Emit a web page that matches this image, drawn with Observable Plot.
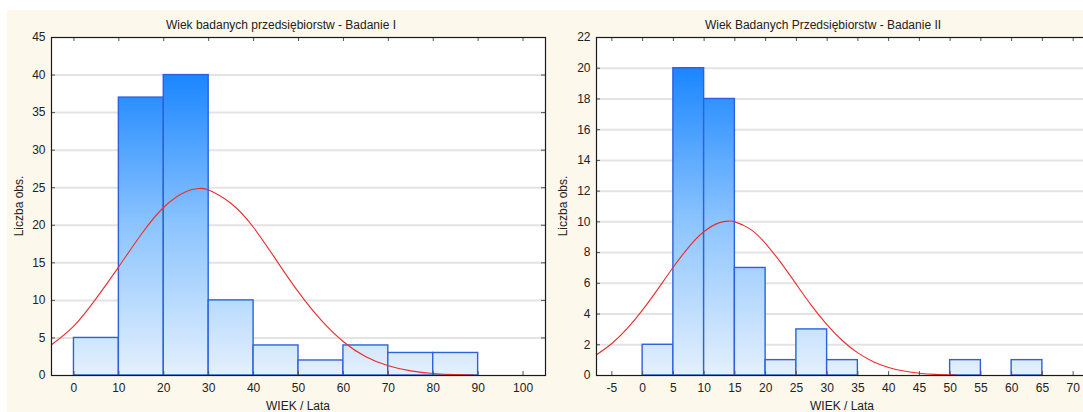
<!DOCTYPE html>
<html><head><meta charset="utf-8">
<script src="https://cdn.jsdelivr.net/npm/d3@7"></script>
<script src="https://cdn.jsdelivr.net/npm/@observablehq/plot@0.6"></script>
<style>
html,body{margin:0;padding:0;background:#fff;overflow:hidden;}
#wrap{position:relative;width:1083px;height:412px;overflow:hidden;font-family:"Liberation Sans",Arial,sans-serif;color:#222;}
#bg{position:absolute;left:7px;top:10px;right:0;bottom:0;background:#fdf8ec;}
.t{position:absolute;font-size:12px;white-space:nowrap;transform:translate(-50%,-50%);}
.yl{transform:translate(-50%,-50%) rotate(-90deg);}
#wrap svg{position:absolute;top:0;}
</style></head><body><div id="wrap"><div id="bg"></div></div>
<script>
// ---- Badanie I ----
const titleI = "Wiek badanych przedsiębiorstw - Badanie I";
const edgesI = [0, 10, 20, 30, 40, 50, 60, 70, 80];
const binWidthI = 10;
const countsI = [5, 37, 40, 10, 4, 2, 4, 3, 3];
const curveXI = [-5, 0, 5, 10, 15, 20, 25, 28, 30, 35, 40, 45, 50, 55, 60, 65, 70, 75, 80, 85, 89];
const curveYI = [4.1, 6.6, 10.3, 14.5, 18.8, 22.4, 24.5, 24.9, 24.7, 22.9, 19.7, 15.4, 11.1, 7.4, 4.5, 2.5, 1.3, 0.62, 0.27, 0.11, 0.05];
const xTicksI = [0, 10, 20, 30, 40, 50, 60, 70, 80, 90, 100];
const yTicksI = [0, 5, 10, 15, 20, 25, 30, 35, 40, 45];
const xDomainI = [-5, 105];

// ---- Badanie II ----
const titleII = "Wiek Badanych Przedsiębiorstw - Badanie II";
const edgesII = [0, 5, 10, 15, 20, 25, 30, 35, 40, 45, 50, 55, 60];
const binWidthII = 5;
const countsII = [2, 20, 18, 7, 1, 3, 1, 0, 0, 0, 1, 0, 1];
const curveXII = [-7.5, -5, -2.5, 0, 2.5, 5, 7.5, 10, 12.5, 14, 15, 17.5, 20, 22.5, 25, 27.5, 30, 32.5, 35, 37.5, 40, 42.5, 45, 47.5, 51];
const curveYII = [1.35, 2.08, 3.06, 4.27, 5.64, 7.06, 8.36, 9.37, 9.95, 10.05, 10.0, 9.53, 8.59, 7.33, 5.93, 4.53, 3.29, 2.26, 1.47, 0.9, 0.52, 0.29, 0.15, 0.075, 0.025];
const xTicksII = [-5, 0, 5, 10, 15, 20, 25, 30, 35, 40, 45, 50, 55, 60, 65, 70];
const yTicksII = [0, 2, 4, 6, 8, 10, 12, 14, 16, 18, 20, 22];
const xDomainII = [-7.5, 72.5];

const xLabel = "WIEK / Lata";
const yLabel = "Liczba obs.";

const wrap = document.getElementById("wrap");

function histo(cfg) {
  const H = 412, mT = 37, mB = 37;
  const plotH = H - mT - mB;
  const plotW = cfg.width - cfg.marginLeft - cfg.marginRight;
  const bars = cfg.edges.map((e, i) => ({x1: e, x2: e + cfg.binWidth, y: cfg.counts[i]})).filter(d => d.y > 0);
  const curve = cfg.curveX.map((x, i) => ({x, y: cfg.curveY[i]}));
  const yMax = cfg.yTicks[cfg.yTicks.length - 1];
  const chart = Plot.plot({
    width: cfg.width, height: H,
    marginTop: mT, marginBottom: mB, marginLeft: cfg.marginLeft, marginRight: cfg.marginRight,
    style: {fontFamily: '"Liberation Sans", Arial, sans-serif', fontSize: "12px", color: "#222", background: "transparent", overflow: "visible"},
    x: {domain: cfg.xDomain, label: null},
    y: {domain: [0, yMax], label: null},
    marks: [
      Plot.frame({fill: "#ffffff", stroke: null}),
      Plot.ruleY(cfg.yTicks.filter(t => t > 0 && t < yMax), {y: d => d, stroke: "#e3e3e3", strokeWidth: 2}),
      Plot.rectY(bars, {x1: "x1", x2: "x2", y: "y", fill: "url(#" + cfg.id + ")", stroke: "#2c62dc", strokeWidth: 1.4}),
      Plot.line(curve, {x: "x", y: "y", stroke: "#ee2b2b", strokeWidth: 1.1, curve: "natural"}),
      Plot.tickX(cfg.xTicks, {x: d => d, stroke: "#555", insetTop: plotH - 4}),
      Plot.tickX(cfg.xTicks, {x: d => d, stroke: "#555", insetBottom: plotH - 4}),
      Plot.tickY(cfg.yTicks, {y: d => d, stroke: "#555", insetRight: plotW - 4}),
      Plot.tickY(cfg.yTicks, {y: d => d, stroke: "#555", insetLeft: plotW - 4}),
      Plot.frame({stroke: "#1a1a1a", strokeWidth: 1.2}),
      Plot.axisX(cfg.xTicks, {tickSize: 0, tickPadding: 8, label: null, fill: "#222", tickFormat: d => String(d)}),
      Plot.axisY(cfg.yTicks, {tickSize: 0, tickPadding: 6, label: null, fill: "#222", tickFormat: d => String(d)})
    ]
  });
  const y = chart.scale("y");
  const maxC = d3.max(cfg.counts);
  const defs = d3.select(chart).insert("defs", ":first-child");
  const g = defs.append("linearGradient").attr("id", cfg.id)
    .attr("gradientUnits", "userSpaceOnUse")
    .attr("x1", 0).attr("x2", 0)
    .attr("y1", y.apply(0)).attr("y2", y.apply(maxC));
  g.append("stop").attr("offset", 0).attr("stop-color", "#e4f0fd");
  g.append("stop").attr("offset", 0.5).attr("stop-color", "#8cc4ff");
  g.append("stop").attr("offset", 1).attr("stop-color", "#1a86ff");
  chart.style.left = cfg.left + "px";
  wrap.appendChild(chart);

  const fx = cfg.left + cfg.marginLeft + plotW / 2;
  const add = (txt, x, yy, cls) => {
    const d = document.createElement("div");
    d.className = "t" + (cls ? " " + cls : "");
    d.textContent = txt;
    d.style.left = x + "px"; d.style.top = yy + "px";
    wrap.appendChild(d);
  };
  add(cfg.title, cfg.titleX, 25);
  add(xLabel, fx, 406);
  add(yLabel, cfg.yLabelX, mT + plotH / 2, "yl");
}

histo({id: "gI", title: titleI, edges: edgesI, binWidth: binWidthI, counts: countsI,
  curveX: curveXI, curveY: curveYI, xTicks: xTicksI, yTicks: yTicksI, xDomain: xDomainI,
  left: 0, width: 547, marginLeft: 51, marginRight: 2, titleX: 281, yLabelX: 19});
histo({id: "gII", title: titleII, edges: edgesII, binWidth: binWidthII, counts: countsII,
  curveX: curveXII, curveY: curveYII, xTicks: xTicksII, yTicks: yTicksII, xDomain: xDomainII,
  left: 555, width: 540, marginLeft: 41, marginRight: 7, titleX: 823, yLabelX: 563});
</script>
</body></html>
